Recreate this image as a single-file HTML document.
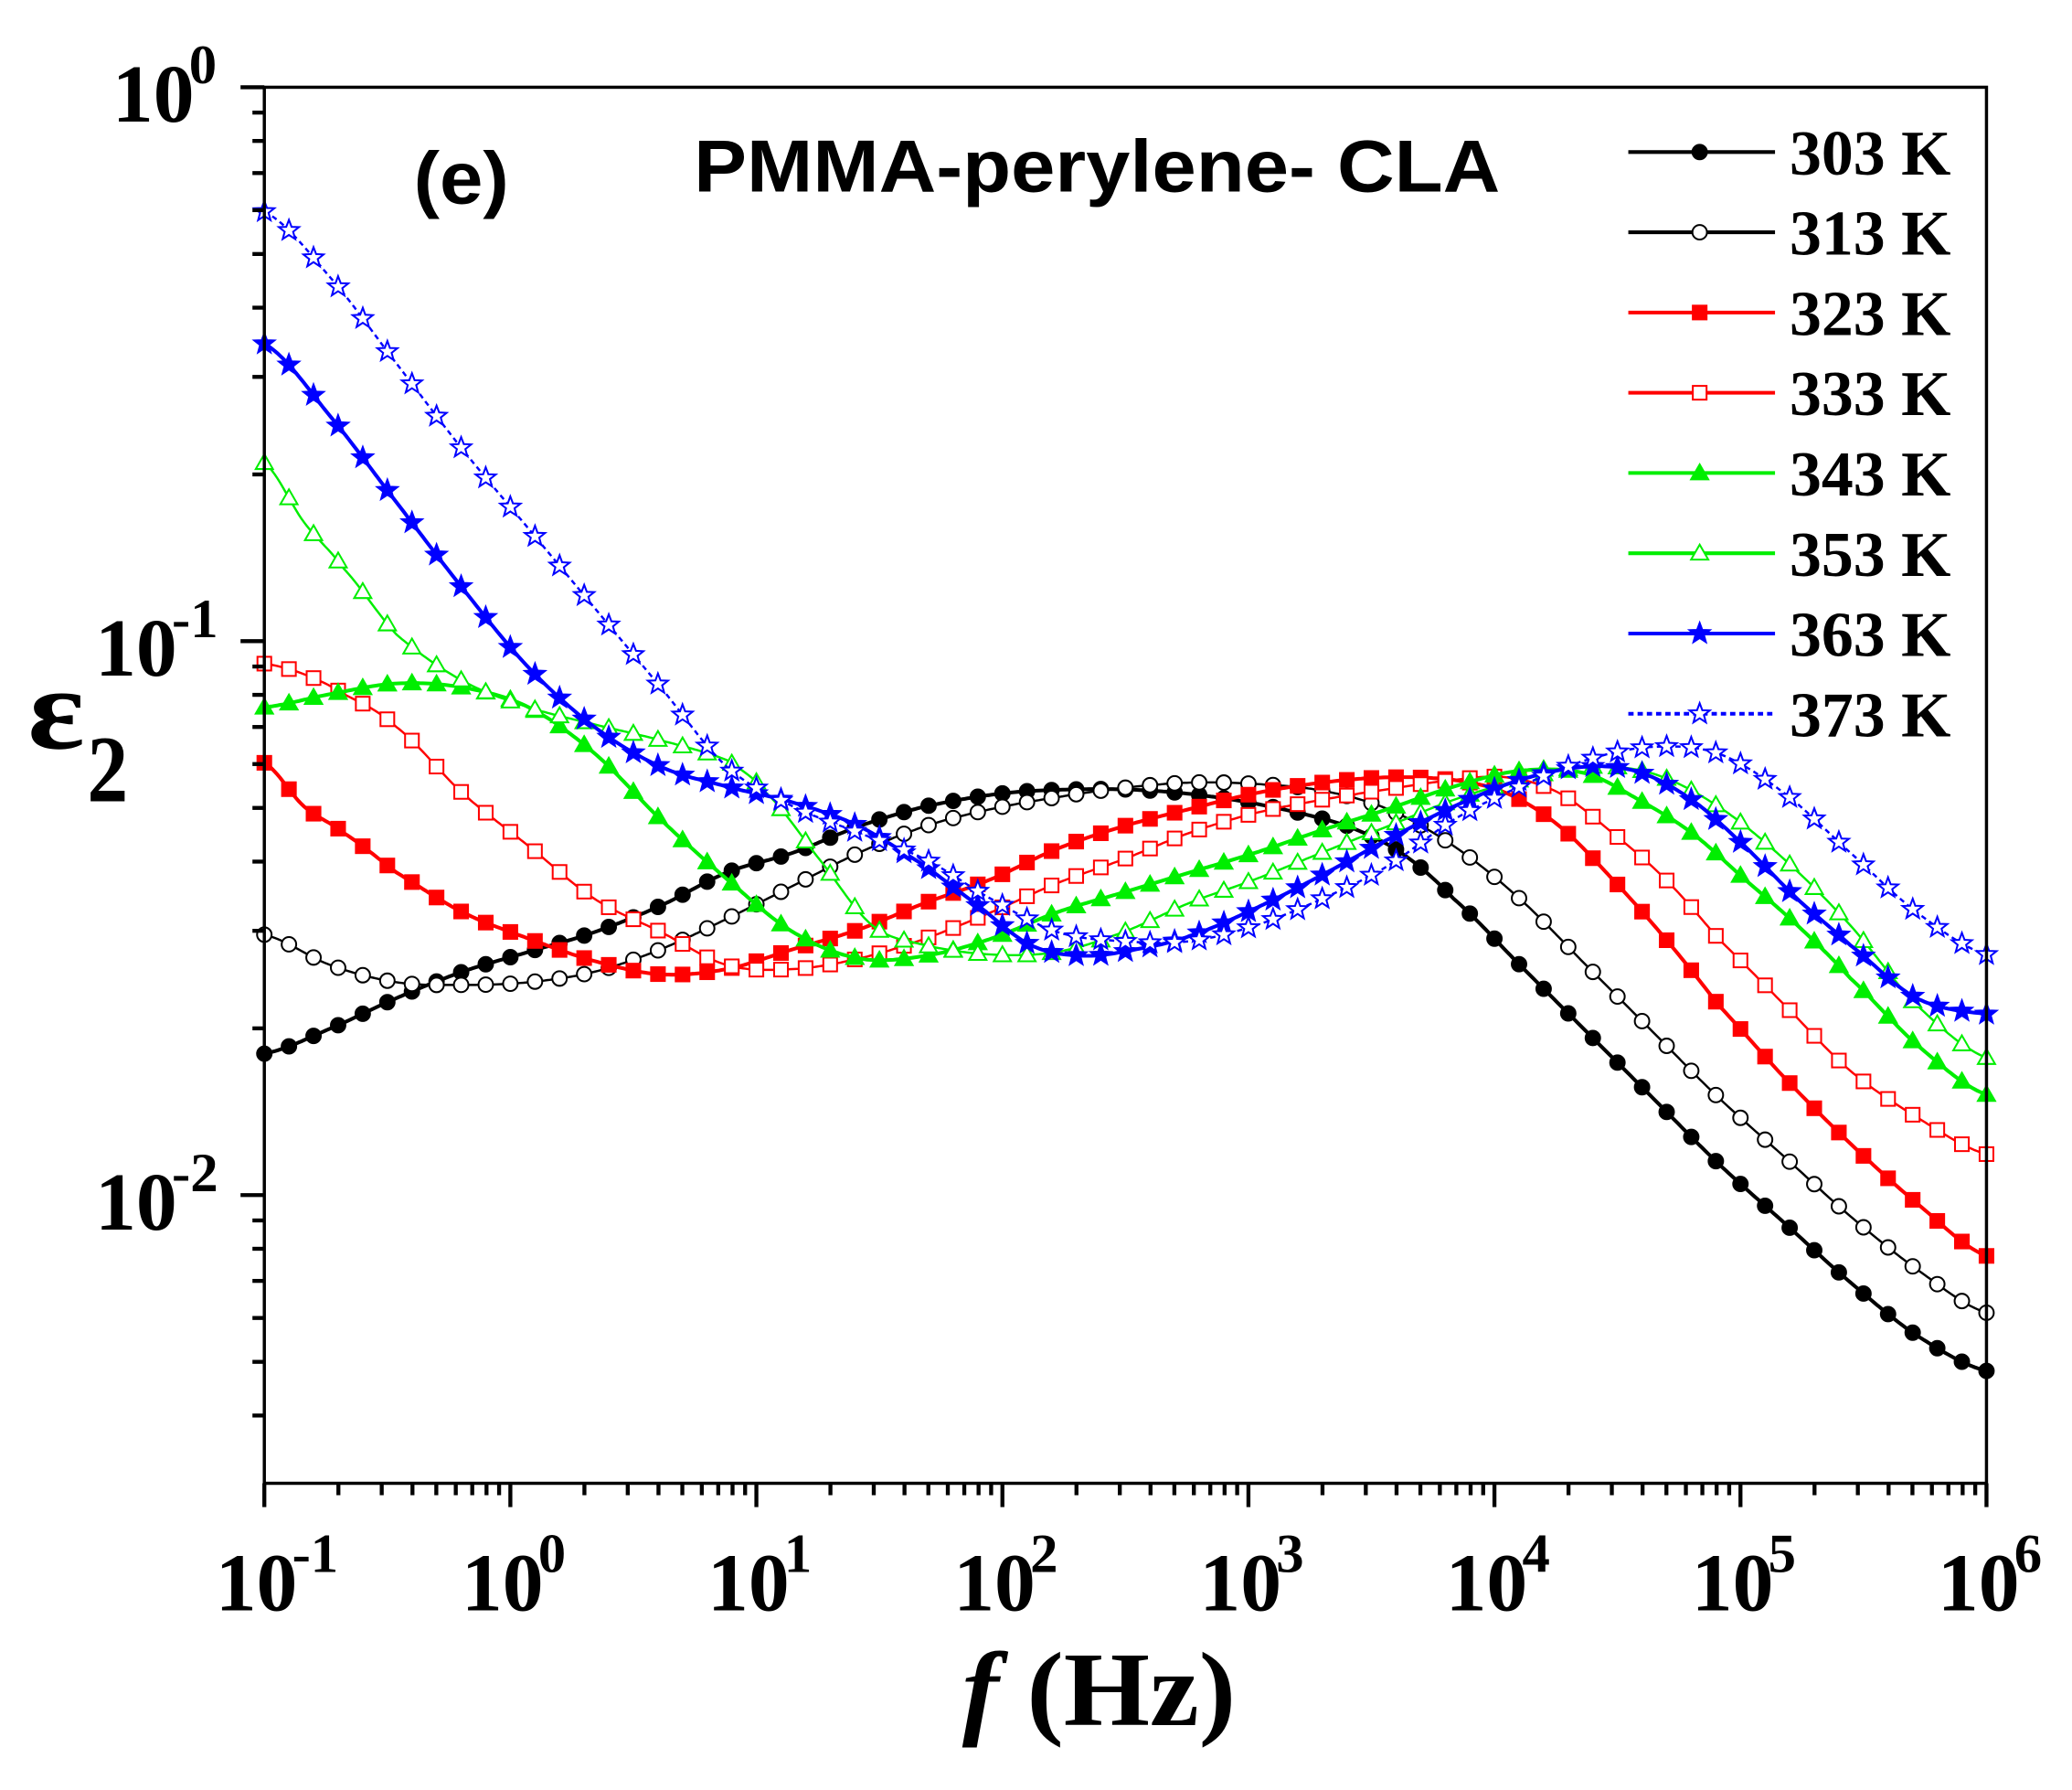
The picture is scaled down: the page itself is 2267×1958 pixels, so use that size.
<!DOCTYPE html>
<html><head><meta charset="utf-8"><style>html,body{margin:0;padding:0;background:#fff}svg{display:block}</style></head>
<body>
<svg id="s" width="2267" height="1958" viewBox="0 0 1567.7 1354" preserveAspectRatio="none" xmlns="http://www.w3.org/2000/svg">
<rect width="1567.7" height="1354" fill="#fff"/>
<g id="plot"></g>
<rect x="200" y="66" width="1303" height="1056" fill="none" stroke="#000" stroke-width="2.4"/>
<g id="ticks" stroke="#000" stroke-width="3"></g>
<g font-family="Liberation Serif, serif" font-weight="bold" fill="#000">
<g id="yl" font-size="62"></g>
<g id="xl" font-size="62"></g>
<text x="21" y="566" font-size="88" textLength="43" lengthAdjust="spacingAndGlyphs">ε</text>
<text x="66" y="606" font-size="72" textLength="31" lengthAdjust="spacingAndGlyphs">2</text>
<text x="728" y="1305" font-size="80" textLength="207" lengthAdjust="spacingAndGlyphs"><tspan font-style="italic">f</tspan> (Hz)</text>
<g font-size="48" id="leg"></g>
</g>
<g font-family="Liberation Sans, sans-serif" font-weight="bold" fill="#000" font-size="56">
<text x="313" y="154" textLength="72" lengthAdjust="spacingAndGlyphs">(e)</text>
<text x="525" y="145" textLength="610" lengthAdjust="spacingAndGlyphs">PMMA-perylene- CLA</text>
</g>
</svg>
<script>
var NS="http://www.w3.org/2000/svg";
function el(t,a,p){var e=document.createElementNS(NS,t);for(var k in a)e.setAttribute(k,a[k]);(p||document.getElementById('plot')).appendChild(e);return e;}
var L=200,R=1503,T=66,B=1122,dx=1303/7,dy=419;
var tk=document.getElementById('ticks');
function lab(g,x,y,e){var t=el('text',{x:x,y:y},g);t.textContent='10';var s=el('text',{x:x+58,y:y-29,'font-size':42},g);s.textContent=e;}
for(var d=0;d<=7;d++){var x=L+d*dx;el('line',{x1:x,y1:B,x2:x,y2:B+18},tk);
 if(d<7)for(var m=2;m<10;m++){var xm=x+Math.log10(m)*dx;el('line',{x1:xm,y1:B,x2:xm,y2:B+9},tk);}
 lab(document.getElementById('xl'),x-37,1218,String(d-1));}
var yl=document.getElementById('yl');
for(var d=0;d<3;d++){var y=T+d*dy;el('line',{x1:L,y1:y,x2:L-18,y2:y},tk);lab(yl,d==0?85:72,y+26,d==0?'0':'-'+d);}
for(var d=0;d<3;d++){var y0=T+d*dy;for(var m=9;m>=2;m--){var y=y0+(1-Math.log10(m))*dy;if(y<B)el('line',{x1:L,y1:y,x2:L-9,y2:y},tk);}}
var S=[
["#000","fc",0,[[200,797],[250,778],[300,755],[350,735],[400,720],[450,705],[500,685],[550,660],[600,645],[650,625],[700,610],[760,600],[820,597],[870,598],[920,603],[970,612],[1020,625],[1060,645],[1100,680],[1150,730],[1200,780],[1250,830],[1300,880],[1350,925],[1400,970],[1450,1010],[1503,1037]]],
["#000","oc",0,[[200,707],[250,730],[300,743],[350,745],[400,743],[450,735],[500,718],[550,695],[600,670],[650,645],[700,625],[750,612],[800,603],[850,596],[900,592],[950,593],[1000,598],[1050,612],[1100,640],[1150,680],[1200,730],[1250,780],[1300,830],[1350,875],[1400,920],[1450,960],[1503,993]]],
["#f00","fs",0,[[200,577],[230,610],[260,630],[300,660],[350,690],[400,710],[450,727],[500,737],[550,733],[600,718],[650,703],[700,683],[750,665],[800,642],[850,625],[900,612],[950,600],[1000,592],[1050,588],[1100,590],[1140,600],[1180,625],[1220,665],[1260,710],[1300,760],[1350,815],[1400,865],[1450,910],[1503,950]]],
["#f00","os",0,[[200,502],[230,510],[260,525],[300,550],[350,600],[400,640],[450,680],[500,705],[550,730],[600,733],[650,725],[700,710],[750,690],[800,668],[850,650],[900,630],[950,615],[1000,605],[1050,597],[1100,590],[1140,588],[1180,600],[1220,630],[1260,665],[1300,710],[1350,760],[1400,810],[1450,845],[1503,873]]],
["#0e0","ft",0,[[200,535],[250,525],[300,517],[350,520],[400,535],[450,570],[500,620],[550,665],[600,705],[650,725],[700,723],[750,710],[800,690],[850,675],[900,660],[950,645],[1000,628],[1050,612],[1100,595],[1150,583],[1200,585],[1240,605],[1280,630],[1320,665],[1360,700],[1400,740],[1450,790],[1503,828]]],
["#0e0","ot",0,[[200,350],[230,395],[260,430],[300,480],[350,515],[400,535],[450,548],[500,560],[550,575],[580,600],[620,650],[660,700],[700,715],[750,722],[800,720],[850,705],[900,683],[950,665],[1000,645],[1050,625],[1100,605],[1150,590],[1200,580],[1250,585],[1300,610],[1350,650],[1400,700],[1450,760],[1503,800]]],
["#00f","fx",0,[[200,260],[250,315],[300,380],[350,445],[400,505],[450,550],[500,580],[550,595],[600,607],[650,625],[700,655],[740,685],[780,715],[820,723],[860,718],[900,708],[950,687],[1000,662],[1050,635],[1100,610],[1150,590],[1200,580],[1240,584],[1280,605],[1320,640],[1360,680],[1400,715],[1450,755],[1503,767]]],
["#00f","ox",1,[[200,160],[250,210],[300,275],[350,340],[400,400],[450,460],[500,520],[550,580],[600,610],[650,630],[700,650],[750,680],[800,705],[850,712],[900,712],[950,700],[1000,680],[1050,655],[1100,620],[1150,595],[1200,575],[1250,565],[1300,570],[1350,600],[1400,645],[1450,690],[1503,722]]]
];
function interp(p,x){for(var i=0;i<p.length-1;i++){if(x<=p[i+1][0]){var a=p[Math.max(i-1,0)],b=p[i],c=p[i+1],d=p[Math.min(i+2,p.length-1)];var t=(x-b[0])/(c[0]-b[0]);var t2=t*t,t3=t2*t;return 0.5*((2*b[1])+(-a[1]+c[1])*t+(2*a[1]-5*b[1]+4*c[1]-d[1])*t2+(-a[1]+3*b[1]-3*c[1]+d[1])*t3);}}return p[p.length-1][1];}
function star(x,y,r){var s='';for(var i=0;i<10;i++){var rr=i%2?r*0.42:r;var a=-Math.PI/2+i*Math.PI/5;s+=(i?'L':'M')+(x+rr*Math.cos(a)).toFixed(1)+','+(y+rr*Math.sin(a)).toFixed(1);}return s+'Z';}
function marker(g,m,c,x,y){var f=m[0]=='f'?c:'#fff',k=m[1];
 if(k=='c')el('circle',{cx:x,cy:y,r:5.5,fill:f,stroke:c,'stroke-width':1.4},g);
 else if(k=='s')el('rect',{x:x-5.2,y:y-5.2,width:10.4,height:10.4,fill:f,stroke:c,'stroke-width':1.4},g);
 else if(k=='t')el('path',{d:'M'+x+','+(y-6.5)+'L'+(x+6.5)+','+(y+4.8)+'L'+(x-6.5)+','+(y+4.8)+'Z',fill:f,stroke:c,'stroke-width':1.4},g);
 else el('path',{d:star(x,y,8),fill:f,stroke:c,'stroke-width':1.4},g);}
var g=document.getElementById('plot');
S.forEach(function(s){var pts=[];for(var x=200;x<=1503.5;x+=2){pts.push([x,interp(s[3],x)]);}
 el('path',{d:'M'+pts.map(function(p){return p[0].toFixed(1)+','+p[1].toFixed(1)}).join('L'),fill:'none',stroke:s[0],'stroke-width':s[1][0]=='f'?2.8:1.7,'stroke-dasharray':s[2]?'4,3':'none'},g);
 for(var i=0;i<=70;i++){var x=200+i*dx/10;marker(g,s[1],s[0],x,interp(s[3],x));}});
var lg=document.getElementById('leg'),names=['303 K','313 K','323 K','333 K','343 K','353 K','363 K','373 K'];
S.forEach(function(s,i){var y=115+i*60.7;el('line',{x1:1232,y1:y,x2:1343,y2:y,stroke:s[0],'stroke-width':2.8,'stroke-dasharray':s[2]?'4,3':'none'},g);marker(g,s[1],s[0],1286,y);
 var t=el('text',{x:1354,y:y+17,textLength:122,lengthAdjust:'spacingAndGlyphs'},lg);t.textContent=names[i];});
</script>
</body></html>
